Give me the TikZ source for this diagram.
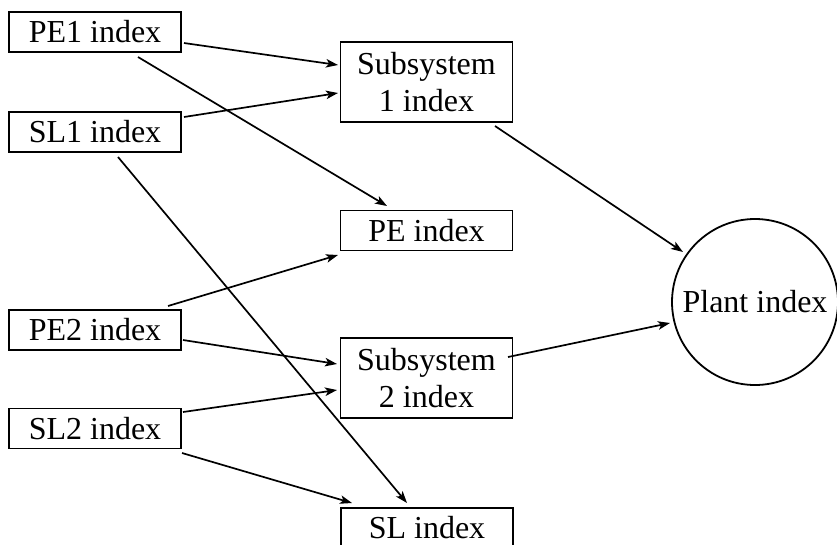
\documentclass[tikz,border=0pt]{standalone}
\usepackage{fontspec}
\setmainfont{Liberation Serif}
\usetikzlibrary{arrows.meta,calc}
\begin{document}
\begin{tikzpicture}[x=1pt,y=-1pt,
  box/.style={draw,line width=1.8pt,minimum width=172pt,minimum height=40pt,inner sep=0pt,align=center,
    font=\fontsize{32}{37}\selectfont},
  ring/.style={draw,circle,line width=1.8pt,minimum size=166pt,inner sep=0pt,font=\fontsize{32}{37}\selectfont},
  conn/.style={line width=1.7pt,-{Stealth[length=12pt,width=8.5pt,inset=3pt]}}]
\useasboundingbox (0,0) rectangle (837,544);
\node[box] (PE1) at (95,32) {PE1 index};
\node[box] (SL1) at (95,132) {SL1 index};
\node[box] (PE2) at (95,330) {PE2 index};
\node[box] (SL2) at (95,428.5) {SL2 index};
\node[box,minimum height=80pt] (S1) at (426.5,82) {Subsystem\\1 index};
\node[box] (PE) at (426.5,230.5) {PE index};
\node[box,minimum height=80pt] (S2) at (426.5,378) {Subsystem\\2 index};
\node[box] (SL) at (427,528) {SL index};
\node[ring] (P) at (755,302) {Plant index};
\draw[conn] ($(PE1)+(89,11)$) -- ($(S1)+(-88.5,-17)$);
\draw[conn] ($(PE1)+(43,25)$) -- ($(PE)+(-39.5,-24.5)$);
\draw[conn] ($(SL1)+(89,-15)$) -- ($(S1)+(-88.5,11)$);
\draw[conn] ($(SL1)+(23,25)$) -- ($(SL)+(-20,-25)$);
\draw[conn] ($(PE2)+(73,-24)$) -- ($(PE)+(-88.5,24.5)$);
\draw[conn] ($(PE2)+(88,10)$) -- ($(S2)+(-89.5,-14)$);
\draw[conn] ($(SL2)+(88,-16.5)$) -- ($(S2)+(-89.5,12)$);
\draw[conn] ($(SL2)+(87,24.5)$) -- ($(SL)+(-75,-25)$);
\draw[conn] ($(S1)+(68.5,44)$) -- ($(P)+(-72,-50)$);
\draw[conn] ($(S2)+(81.5,-21)$) -- ($(P)+(-85,21)$);
\end{tikzpicture}
\end{document}
